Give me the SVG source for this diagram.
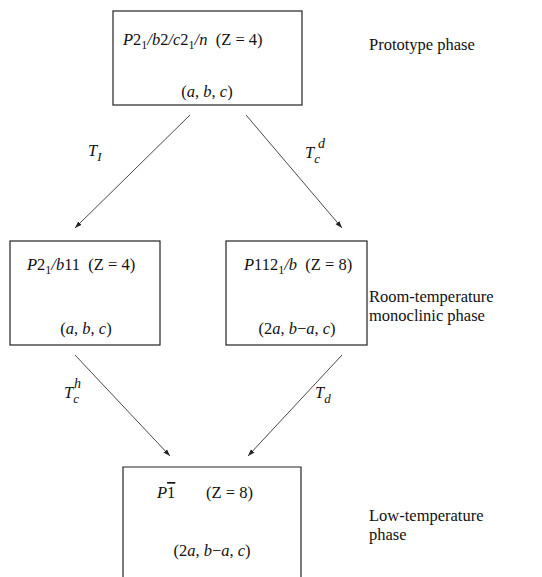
<svg xmlns="http://www.w3.org/2000/svg" width="542" height="577" viewBox="0 0 542 577">
<style>
text{font-family:"Liberation Serif","Times New Roman",serif;font-size:16.5px;fill:#111;white-space:pre}
.i{font-style:italic}
.sub{font-size:12px}
.box{fill:#fff;stroke:#222;stroke-width:1.2}
.conn{stroke:#333;stroke-width:0.9;fill:none;marker-end:url(#ah)}
</style>
<defs>
<marker id="ah" viewBox="0 0 10 10" refX="10" refY="5" markerWidth="7" markerHeight="7" markerUnits="userSpaceOnUse" orient="auto">
<path d="M0,1.5 L10,5 L0,8.5 Z" fill="#222"/>
</marker>
</defs>

<g id="connectors">
<line class="conn" x1="190" y1="115" x2="75" y2="228"/>
<line class="conn" x1="246" y1="115" x2="342" y2="228"/>
<line class="conn" x1="75" y1="355" x2="170" y2="456"/>
<line class="conn" x1="342" y1="355" x2="248" y2="456"/>
<text x="88" y="156" font-size="18"><tspan class="i">T</tspan><tspan class="i" dy="5" font-size="13">I</tspan></text>
<text x="305" y="158" font-size="18"><tspan class="i">T</tspan><tspan class="i" dy="5" font-size="13">c</tspan><tspan class="i" dx="-2" dy="-15" font-size="14">d</tspan></text>
<text x="64" y="398" font-size="18"><tspan class="i">T</tspan><tspan class="i" dy="5" font-size="13">c</tspan><tspan class="i" dx="-5" dy="-15" font-size="14">h</tspan></text>
<text x="315" y="398" font-size="18"><tspan class="i">T</tspan><tspan class="i" dy="5" font-size="13">d</tspan></text>
</g>

<g id="prototype">
<rect class="box" x="113" y="11" width="189" height="94"/>
<text x="123" y="45"><tspan class="i">P</tspan>2<tspan class="sub" dy="4">1</tspan><tspan dy="-4" class="i">/b</tspan>2<tspan class="i">/c</tspan>2<tspan class="sub" dy="4">1</tspan><tspan dy="-4" class="i">/n</tspan>  (Z = 4)</text>
<text x="207" y="97" text-anchor="middle">(<tspan class="i">a</tspan>, <tspan class="i">b</tspan>, <tspan class="i">c</tspan>)</text>
</g>

<g id="monoclinic-left">
<rect class="box" x="10" y="241" width="150" height="104"/>
<text x="27" y="270"><tspan class="i">P</tspan>2<tspan class="sub" dy="4">1</tspan><tspan dy="-4" class="i">/b</tspan>11  (Z = 4)</text>
<text x="86" y="334" text-anchor="middle">(<tspan class="i">a</tspan>, <tspan class="i">b</tspan>, <tspan class="i">c</tspan>)</text>
</g>

<g id="monoclinic-right">
<rect class="box" x="226" y="241" width="141" height="104"/>
<text x="244" y="270"><tspan class="i">P</tspan>112<tspan class="sub" dy="4">1</tspan><tspan dy="-4" class="i">/b</tspan>  (Z = 8)</text>
<text x="297" y="334" text-anchor="middle">(2<tspan class="i">a</tspan>, <tspan class="i">b</tspan>−<tspan class="i">a</tspan>, <tspan class="i">c</tspan>)</text>
</g>

<g id="low-temp">
<path class="box" d="M123,577 L123,467 L301,467 L301,577" fill="#fff"/>
<text x="157" y="498"><tspan class="i">P</tspan><tspan text-decoration="overline">1</tspan></text>
<text x="206" y="498">(Z = 8)</text>
<text x="212" y="556" text-anchor="middle">(2<tspan class="i">a</tspan>, <tspan class="i">b</tspan>−<tspan class="i">a</tspan>, <tspan class="i">c</tspan>)</text>
</g>

<g id="labels">
<text x="369" y="50">Prototype phase</text>
<text x="369" y="302">Room-temperature</text>
<text x="369" y="321">monoclinic phase</text>
<text x="369" y="521">Low-temperature</text>
<text x="369" y="540">phase</text>
</g>
</svg>
